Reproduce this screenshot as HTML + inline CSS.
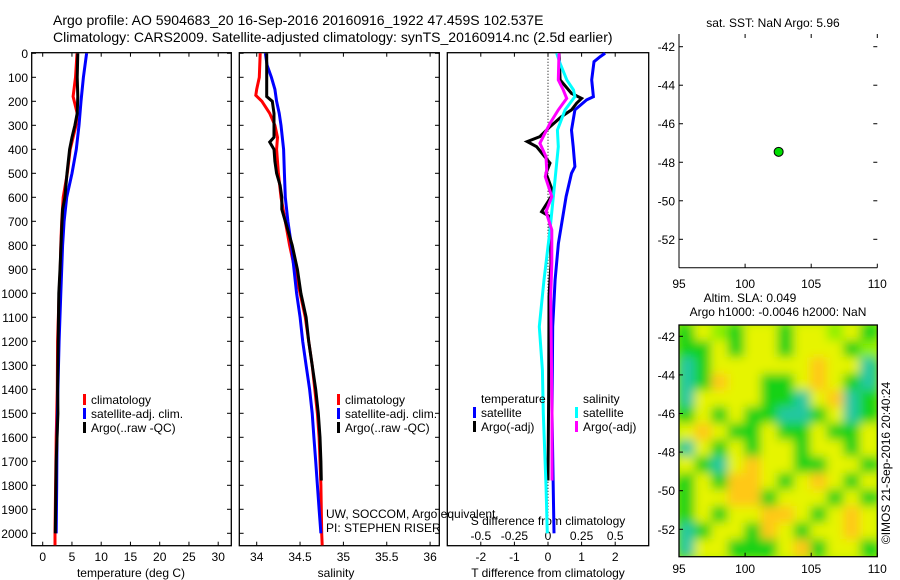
<!DOCTYPE html>
<html><head><meta charset="utf-8"><style>
html,body{margin:0;padding:0;background:#fff;}
svg{display:block;font-family:"Liberation Sans",sans-serif;}
</style></head><body>
<svg id="c" width="900" height="580" viewBox="0 0 900 580">
<text x="53" y="25" font-size="14">Argo profile: AO 5904683_20 16-Sep-2016 20160916_1922 47.459S 102.537E</text>
<text x="53" y="42" font-size="14">Climatology: CARS2009. Satellite-adjusted climatology: synTS_20160914.nc (2.5d earlier)</text>
</svg>
<script>
// ---- data ----
const depthTc=[0,100,180,250,300,400,500,600,700,800,900,1000,1200,1400,1600,1800,2000,2050];
const tempClim=[5.86,5.6,5.2,5.9,5.7,4.7,4.2,3.5,3.25,3.1,3.0,2.8,2.55,2.5,2.3,2.2,2.1,2.1];
const depthTs=[0,100,200,300,400,500,600,700,800,900,1000,1200,1400,1600,1800,2000];
const tempSat=[7.5,6.95,6.55,6.2,5.75,5.0,4.1,3.65,3.4,3.25,3.1,2.8,2.6,2.45,2.4,2.3];
const depthTa=[0,100,180,250,300,350,400,500,600,650,700,900,1000,1400,1500,1700,1800,2000];
const tempArgo=[6.0,5.9,6.0,5.9,5.5,5.0,4.6,4.15,3.8,3.4,3.3,2.95,2.75,2.55,2.6,2.3,2.25,2.15];
const depthSc=[0,100,150,175,200,250,300,350,400,500,600,700,800,900,1000,1100,1200,1300,1400,1500,1600,1700,1800,1900,2000,2050];
const salClim=[34.04,34.03,34.0,33.99,34.06,34.15,34.21,34.24,34.23,34.25,34.28,34.33,34.38,34.44,34.5,34.56,34.6,34.64,34.67,34.7,34.72,34.73,34.74,34.745,34.75,34.755];
const depthSs=[0,50,100,150,200,250,300,400,500,600,700,800,900,1000,1100,1200,1300,1400,1500,1600,1700,1800,1900,2000];
const salSat=[34.1,34.12,34.17,34.21,34.23,34.26,34.28,34.31,34.32,34.33,34.36,34.4,34.43,34.46,34.5,34.53,34.57,34.61,34.64,34.66,34.68,34.7,34.72,34.74];
const depthSa=[0,180,200,250,300,350,370,400,450,500,550,600,650,700,800,900,1000,1100,1200,1300,1400,1500,1600,1700,1780];
const salArgo=[34.115,34.115,34.18,34.2,34.2,34.2,34.15,34.2,34.21,34.23,34.27,34.29,34.29,34.33,34.41,34.47,34.51,34.57,34.6,34.64,34.68,34.71,34.73,34.74,34.745];
const depthDT=[0,14,35,111,181,194,236,320,389,472,500,597,681,792,944,1139,1500,2000];
const dTsat=[1.7,1.55,1.37,1.3,1.35,1.15,0.8,0.7,0.75,0.8,0.7,0.54,0.44,0.31,0.21,0.14,0.12,0.18];
const depthDS=[0,42,111,153,181,236,320,389,528,736,944,1139,1320,1500,1800,2000];
const dSsat=[0.065,0.09,0.14,0.19,0.2,0.127,0.07,0.077,0.052,0.015,-0.03,-0.065,-0.042,-0.035,-0.015,-0.005];
const depthDA=[0,111,167,188,208,236,264,306,347,368,389,458,500,583,660,681,875,1014,1400,1780];
const dTargo=[0.33,0.36,0.7,1.0,0.85,0.7,0.4,0.06,-0.24,-0.62,-0.34,0.06,-0.06,0.16,-0.19,0.06,0.09,0.03,0.02,0.0];
const depthDSA=[0,111,153,188,236,292,333,375,431,486,514,597,660,736,875,1014,1500,1780];
const dSargo=[0.082,0.077,0.114,0.139,0.077,0.015,-0.022,-0.06,-0.015,-0.01,-0.02,0.028,-0.015,0.028,0.028,0.02,0.03,0.03];
const floatLon=[102.537], floatLat=[-47.459];
const slaGrid=[
[1,3,2,1,3,3,1,3,3,2,3,1],[1,1,3,1,3,3,1,3,3,3,1,2],[0,1,3,3,3,3,3,3,4,3,3,0],
[0,1,4,3,3,1,1,3,4,3,1,0],[0,3,3,3,3,1,1,0,3,4,0,1],[1,3,1,3,1,1,0,0,1,3,0,1],
[3,4,3,1,1,3,1,1,3,1,1,3],[0,3,1,3,1,3,3,1,3,3,1,3],[3,1,0,3,4,3,3,1,1,3,3,1],
[1,3,1,4,4,3,1,3,4,3,1,3],[1,3,3,4,4,1,3,3,3,1,3,1],[1,3,1,3,3,4,4,3,1,3,4,3],
[0,1,3,3,1,4,3,1,3,3,4,3],[0,3,3,1,1,1,3,4,1,3,3,1]];
const depthTicks=[0,100,200,300,400,500,600,700,800,900,1000,1100,1200,1300,1400,1500,1600,1700,1800,1900,2000];
const tempTicks=[0,5,10,15,20,25,30];
const salTicks=[34,34.5,35,35.5,36];
const salTickLabels=["34","34.5","35","35.5","36"];
const dTTicks=[-2,-1,0,1,2];
const dSTicks=[-0.5,-0.25,0,0.25,0.5];
const latTicks=[-42,-44,-46,-48,-50,-52];
const lonTicks=[95,100,105,110];
// ---- scales ----
const yD=d=>53.3+0.24*d;
const xT=t=>42.7+5.85*t;
const xS=s=>256.7+86.7*(s-34);
const xDT=v=>548+33.6*v;
const xDS=v=>548+134.4*v;
const xLon=l=>679+(l-95)*(877.3-679)/15;
const yLat1=a=>46.7+(-42-a)*19.26;
const yLat2=a=>336.3+(-42-a)*19.3;
const svg=document.getElementById('c');
const NS='http://www.w3.org/2000/svg';
function mk(tag,attrs,parent){const e=document.createElementNS(NS,tag);for(const k in attrs)e.setAttribute(k,attrs[k]);(parent||svg).appendChild(e);return e;}
function txt(x,y,s,size,anchor){const t=mk('text',{x:x,y:y,'font-size':size,'text-anchor':anchor||'start'});t.textContent=s;return t;}
function line(xs,ds,fx,col,w,name){const pts=xs.map((v,i)=>fx(v).toFixed(1)+','+yD(ds[i]).toFixed(1)).join(' ');
 const p=mk('polyline',{points:pts,fill:'none',stroke:col,'stroke-width':w,'stroke-linejoin':'miter'});
 
 return p;}
function box(x1,y1,x2,y2,name){const r=mk('rect',{x:x1,y:y1,width:x2-x1,height:y2-y1,fill:'none',stroke:'#000','stroke-width':1.3});
 
 }
const B=545.7,T=52.7;
box(31.7,T,231.3,B,'temperature-axes');
box(239.3,T,439.3,B,'salinity-axes');
box(447.3,T,648.7,B,'difference-axes');
depthTicks.forEach(d=>{const y=yD(d);
 [[31.7,36],[231.3,227],[239.3,243.6],[439.3,435]].forEach(a=>mk('line',{x1:a[0],y1:y,x2:a[1],y2:y,stroke:'#000'}));
 const t=txt(28,y+4.5,String(d),12,'end');
 
 });
tempTicks.forEach(v=>{const x=xT(v);mk('line',{x1:x,y1:B,x2:x,y2:B-4,stroke:'#000'});mk('line',{x1:x,y1:T,x2:x,y2:T+4,stroke:'#000'});
 const t=txt(x,561,String(v),12,'middle');
 
 });
salTicks.forEach((v,i)=>{const x=xS(v);mk('line',{x1:x,y1:B,x2:x,y2:B-4,stroke:'#000'});mk('line',{x1:x,y1:T,x2:x,y2:T+4,stroke:'#000'});
 const t=txt(x,561,salTickLabels[i],12,'middle');
 
 });
dTTicks.forEach(v=>{const x=xDT(v);mk('line',{x1:x,y1:B,x2:x,y2:B-4,stroke:'#000'});mk('line',{x1:x,y1:T,x2:x,y2:T+4,stroke:'#000'});
 const t=txt(x,561,String(v),12,'middle');
 
 });
dSTicks.forEach(v=>{const t=txt(xDS(v),540,String(v),12,'middle');
 
 });
let tt;
tt=txt(131,577,'temperature (deg C)',12,'middle');
tt=txt(336,577,'salinity',12,'middle');
tt=txt(548,577,'T difference from climatology',12,'middle');
tt=txt(548,525,'S difference from climatology',12,'middle');
mk('line',{x1:xDT(0),y1:T,x2:xDT(0),y2:yD(2000),stroke:'#000','stroke-dasharray':'1,2'});
line(tempClim,depthTc,xT,'#f00',3,'temp-climatology-line');
line(tempSat,depthTs,xT,'#00f',3,'temp-satellite-line');
line(tempArgo,depthTa,xT,'#000',3,'temp-argo-line');
line(salClim,depthSc,xS,'#f00',3,'sal-climatology-line');
line(salSat,depthSs,xS,'#00f',3,'sal-satellite-line');
line(salArgo,depthSa,xS,'#000',3,'sal-argo-line');
line(dTsat,depthDT,xDT,'#00f',3,'t-diff-satellite-line');
line(dTargo,depthDA,xDT,'#000',3,'t-diff-argo-line');
line(dSsat,depthDS,xDS,'#0ff',3,'s-diff-satellite-line');
line(dSargo,depthDSA,xDS,'#f0f',3,'s-diff-argo-line');
function leg(x,y,col,s,name){mk('rect',{x:x,y:y-10,width:3,height:11,fill:col});const t=txt(x+8,y,s,12);
 
 }
leg(83,404,'#f00','climatology','legend-climatology');
leg(83,418,'#00f','satellite-adj. clim.','legend-satellite-adj');
leg(83,432,'#000','Argo(..raw -QC)','legend-argo');
leg(337,404,'#f00','climatology','legend-sal-climatology');
leg(337,418,'#00f','satellite-adj. clim.','legend-sal-satellite-adj');
leg(337,432,'#000','Argo(..raw -QC)','legend-sal-argo');
tt=txt(481,403,'temperature',12);
tt=txt(583,403,'salinity',12);
leg(473,417,'#00f','satellite','legend-t-satellite');
leg(473,431,'#000','Argo(-adj)','legend-t-argo');
leg(575,417,'#0ff','satellite','legend-s-satellite');
leg(575,431,'#f0f','Argo(-adj)','legend-s-argo');
tt=txt(326,518,'UW, SOCCOM, Argo equivalent',12);
tt=txt(326,532,'PI: STEPHEN RISER',12);
// top map
const M1T=34,M1B=267.7,ML=679,MR=877.3;
mk('line',{x1:ML,y1:M1T,x2:ML,y2:M1B,stroke:'#000'});mk('line',{x1:ML,y1:M1B,x2:MR,y2:M1B,stroke:'#000'});
latTicks.forEach(a=>{const y=yLat1(a);mk('line',{x1:ML,y1:y,x2:ML+4,y2:y,stroke:'#000'});mk('line',{x1:MR,y1:y,x2:MR-4,y2:y,stroke:'#000'});
 const t=txt(675,y+4.5,String(a),12,'end');
 
 });
lonTicks.forEach(l=>{const x=xLon(l);mk('line',{x1:x,y1:M1B,x2:x,y2:M1B-4,stroke:'#000'});mk('line',{x1:x,y1:M1T,x2:x,y2:M1T+4,stroke:'#000'});
 const t=txt(x,288,String(l),12,'middle');
 
 });
floatLon.forEach((l,i)=>{const c=mk('circle',{cx:xLon(l),cy:yLat1(floatLat[i]),r:4.5,fill:'#0d0',stroke:'#000','stroke-width':1});
 
 });
tt=txt(773,27,'sat. SST: NaN Argo: 5.96',12,'middle');
tt=txt(750,302,'Altim. SLA: 0.049',12,'middle');
tt=txt(778,316,'Argo h1000: -0.0046 h2000: NaN',12,'middle');
// heatmap
const M2T=325,M2B=556.7;
const pal=['#22c8a0','#14d214','#8cf000','#e6f400','#ffc814'];
const defs=mk('defs',{});
const cp=mk('clipPath',{id:'hc'},defs);mk('rect',{x:ML,y:M2T,width:MR-ML,height:M2B-M2T},cp);
const fl=mk('filter',{id:'bl',filterUnits:'userSpaceOnUse',x:ML-20,y:M2T-20,width:MR-ML+40,height:M2B-M2T+40},defs);mk('feGaussianBlur',{stdDeviation:5},fl);
const g0=mk('g',{'clip-path':'url(#hc)'});
mk('rect',{x:ML,y:M2T,width:MR-ML,height:M2B-M2T,fill:'#b4f000'},g0);
const g=mk('g',{filter:'url(#bl)'},g0);
const nr=slaGrid.length,nc=slaGrid[0].length;const cw=(MR-ML)/nc,ch=(M2B-M2T)/nr;
slaGrid.forEach((row,r)=>row.forEach((v,c)=>{const e=mk('rect',{x:ML+c*cw-1,y:M2T+r*ch-1,width:cw+2,height:ch+2,fill:pal[v]},g);
 
 }));
box(ML,M2T,MR,M2B,'sla-map-axes');
latTicks.forEach(a=>{const y=yLat2(a);mk('line',{x1:ML,y1:y,x2:ML+4,y2:y,stroke:'#000'});
 const t=txt(675,y+4.5,String(a),12,'end');
 
 });
lonTicks.forEach(l=>{const x=xLon(l);mk('line',{x1:x,y1:M2B,x2:x,y2:M2B-4,stroke:'#000'});
 const t=txt(x,573,String(l),12,'middle');
 
 });
tt=mk('text',{x:0,y:0,'font-size':12,'text-anchor':'middle',transform:'translate(890,463) rotate(-90)'});tt.textContent='©IMOS 21-Sep-2016 20:40:24';


</script>
</body></html>
